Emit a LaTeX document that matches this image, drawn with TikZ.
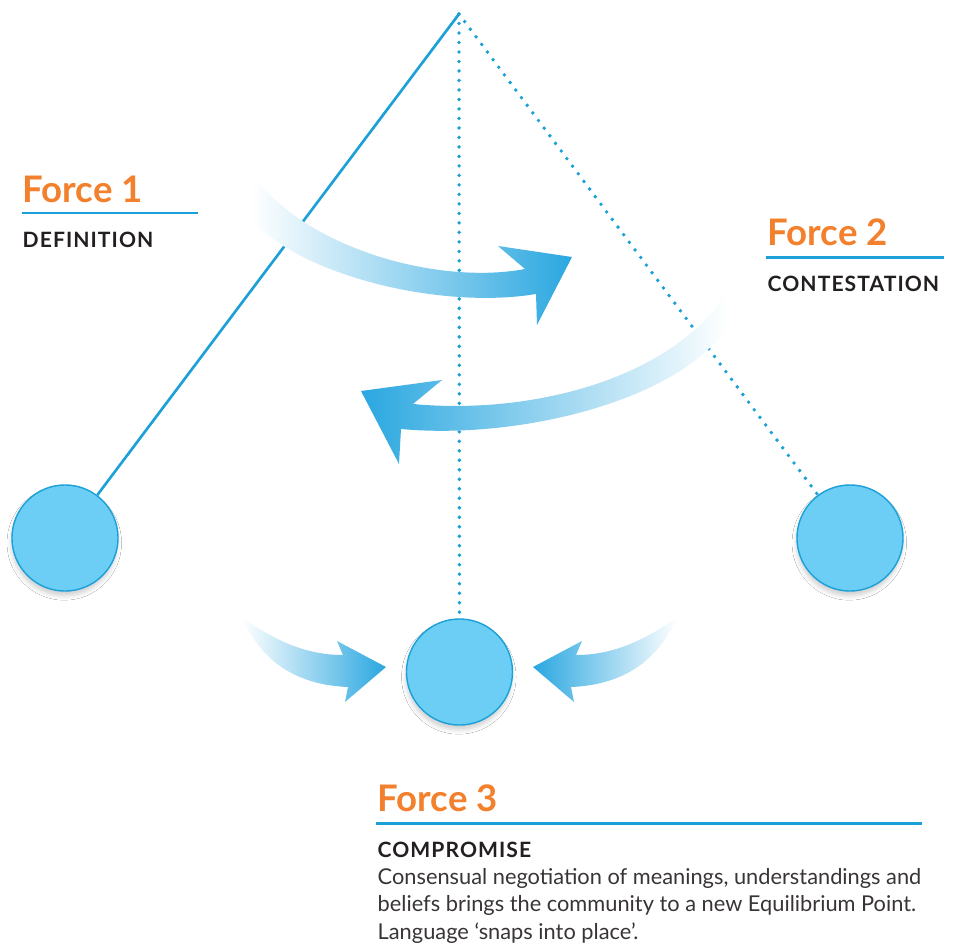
\documentclass[tikz,border=0pt]{standalone}
\usepackage{fontspec}
\setmainfont{Lato}
\newfontfamily\capsfont[LetterSpace=5]{Lato}
\usetikzlibrary{shadows.blur}

\definecolor{ropeblue}{RGB}{27,160,216}
\definecolor{ballblue}{RGB}{108,206,245}
\definecolor{arrowblue}{RGB}{42,167,224}
\definecolor{arrowmid}{RGB}{180,215,243}
\definecolor{forceorange}{RGB}{242,128,44}
\definecolor{textdark}{RGB}{35,31,32}

\tikzset{
  ball/.style={circle, fill=ballblue, draw=ropeblue, line width=0.4pt,
    minimum size=1.06cm, inner sep=0pt,
    blur shadow={shadow xshift=-0.2pt, shadow yshift=-1.4pt,
      shadow blur radius=1.2pt, shadow opacity=18}},
  rope/.style={ropeblue, line width=0.75pt},
  dotrope/.style={ropeblue, line width=1.1pt, line cap=round,
    dash pattern=on 0pt off 2.7pt},
  bar/.style={ropeblue, line width=0.85pt},
  swooshright/.style={left color=white, middle color=arrowmid, right color=arrowblue},
  swooshleft/.style={left color=arrowblue, middle color=arrowmid, right color=white},
  forcelabel/.style={anchor=base west, inner sep=0pt, text=forceorange,
    font=\fontsize{10.4}{12}\selectfont\bfseries},
  caplabel/.style={anchor=base west, inner sep=0pt, text=textdark,
    font=\capsfont\fontsize{6.0}{7}\selectfont\bfseries},
  bodytext/.style={anchor=base west, inner sep=0pt, text=textdark!90,
    align=left, font=\fontsize{6.2}{7.7}\selectfont}
}

\begin{document}
\begin{tikzpicture}[x=0.01cm, y=-0.01cm]

  \fill [white] (0,0) rectangle (954,948);
  \useasboundingbox (0,0) rectangle (954,948);

  \coordinate (apex) at (459,14);
  \node [ball] (ballleft) at (65,538) {};
  \node [ball] (ballright) at (850,538) {};
  \node [ball] (ballmid) at (459.5,672) {};

  % strings
  \draw [rope] (apex) -- (ballleft);
  \draw [dotrope] (apex) -- (ballright);
  \draw [dotrope] (apex) -- (ballmid);

  % swinging arrows
  \shade [swooshright] (255,178) .. controls (310,250) and (440,285) .. (525,269)
    -- (498,246) -- (572,257) -- (537,325) -- (536,294)
    .. controls (440,310) and (300,275) .. (252,220) -- cycle;
  \shade [swooshleft] (727,293) .. controls (670,380) and (530,415) .. (413,404)
    -- (442,380) -- (361,391) -- (399,464) -- (401,429)
    .. controls (520,440) and (680,400) .. (727,327) -- cycle;

  % pushing arrows
  \shade [left color=white, right color=arrowblue] (242,618)
    .. controls (275,640) and (305,655) .. (343,655)
    -- (337,641) -- (386,667) -- (345,702) -- (348,687)
    .. controls (300,685) and (265,665) .. (244,622) -- cycle;
  \shade [left color=arrowblue, right color=white] (677,618)
    .. controls (644,640) and (614,655) .. (576,655)
    -- (582,641) -- (533,667) -- (574,702) -- (571,687)
    .. controls (619,685) and (654,665) .. (675,622) -- cycle;

  % labels
  \node [forcelabel] (force1) at (22,202) {Force 1};
  \draw [bar] (22,213) -- (198,213);
  \node [caplabel] (def1) at (22,247) {DEFINITION};

  \node [forcelabel] (force2) at (767,245) {Force 2};
  \draw [bar] (766,257) -- (944,257);
  \node [caplabel] (def2) at (767,291) {CONTESTATION};

  \node [forcelabel] (force3) at (377,811) {Force 3};
  \draw [bar] (376,823) -- (922,823);
  \node [caplabel] (def3) at (377,857) {COMPROMISE};
  \node [bodytext] (body3) at (377,939) {Consensual negotiation of meanings, understandings and\\
    beliefs brings the community to a new Equilibrium Point.\\
    Language `snaps into place'.};

\end{tikzpicture}
\end{document}
